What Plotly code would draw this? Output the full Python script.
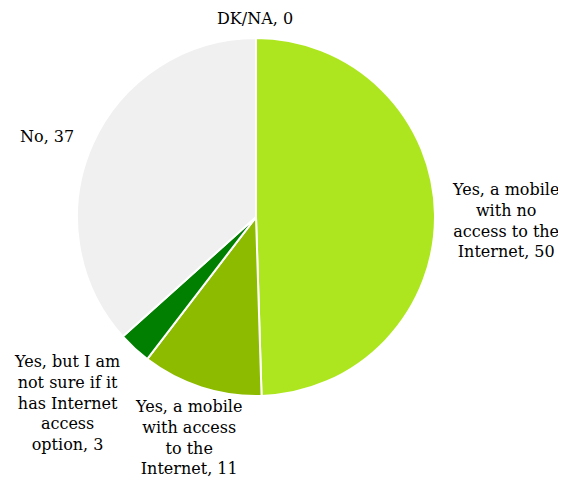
import plotly.graph_objects as go

categories = [
    "Yes, a mobile with no access to the Internet",
    "Yes, a mobile with access to the Internet",
    "Yes, but I am not sure if it has Internet access option",
    "No",
    "DK/NA",
]
values = [50, 11, 3, 37, 0]
colors = ["#ADE61F", "#8CBB00", "#007F00", "#F0F0F0", "#D9D9D9"]

# wrapped display labels (same order as categories)
display_labels = [
    "Yes, a mobile<br>with no<br>access to the<br>Internet",
    "Yes, a mobile<br>with access<br>to the<br>Internet",
    "Yes, but I am<br>not sure if it<br>has Internet<br>access<br>option",
    "No",
    "DK/NA",
]
# page has an 8px body margin, so figure coords = screen coords - 8
OFF = 8
# label centres in screen pixels (x, y from top)
label_pos = [(505, 220), (188, 437), (67, 403), (47, 137), (255, 18)]

W, H = 566, 481
cx, cy, r = 256 - OFF, 217 - OFF, 179

fig = go.Figure(go.Pie(
    labels=categories,
    values=values,
    sort=False,
    direction="clockwise",
    rotation=0,
    marker=dict(colors=colors, line=dict(color="white", width=2)),
    textinfo="none",
    hoverinfo="label+value",
    showlegend=False,
    domain=dict(x=[(cx - r) / W, (cx + r) / W],
                y=[(H - cy - r) / H, (H - cy + r) / H]),
))

for lab, val, (px, py) in zip(display_labels, values, label_pos):
    fig.add_annotation(
        x=(px - OFF) / W, y=1 - (py - OFF) / H, xref="paper", yref="paper",
        text=f"{lab}, {val}", showarrow=False,
        xanchor="center", yanchor="middle", align="center",
        font=dict(family="DejaVu Serif", size=16, color="#000000"),
    )

fig.update_layout(
    width=W, height=H,
    margin=dict(l=0, r=0, t=0, b=0),
    paper_bgcolor="white", plot_bgcolor="white",
)

fig.write_html("out.html")
